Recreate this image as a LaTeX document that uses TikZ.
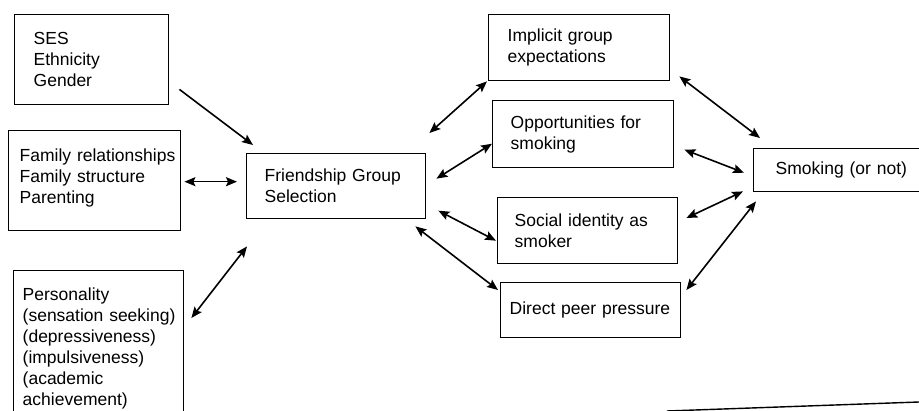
\documentclass[tikz,border=0pt]{standalone}
\usepackage{fontspec}
\setmainfont{Liberation Sans}
\usetikzlibrary{arrows.meta,calc}
\begin{document}
\begin{tikzpicture}[x=1pt,y=-1pt,
  box/.style={draw, line width=1.4pt, anchor=north west, align=left,
    font=\fontsize{17.5}{21}\selectfont, inner ysep=0pt},
  link/.style={line width=1.6pt, {Stealth[length=11pt,width=9pt,inset=2pt]}-{Stealth[length=11pt,width=9pt,inset=2pt]}},
  one/.style={line width=1.6pt, -{Stealth[length=11pt,width=9pt,inset=2pt]}},
  edge line/.style={line width=1.4pt}]
\useasboundingbox (0,0) rectangle (919,411);

% left column
\node[box, minimum width=154pt, minimum height=90pt, inner xsep=19pt, text width=116pt] (ses) at (14,14) {SES\\Ethnicity\\Gender};
\node[box, minimum width=172pt, minimum height=100pt, inner xsep=11pt, text width=150pt, text depth=52pt] (fam) at (8,130) {\mbox{Family relationships}\\Family structure\\Parenting};
\node[box, minimum width=170pt, minimum height=155pt, inner xsep=9pt, text width=152pt] (pers) at (13,270) {Personality\\\mbox{(sensation seeking)}\\(depressiveness)\\(impulsiveness)\\(academic\\achievement)};

% centre
\node[box, minimum width=179pt, minimum height=65pt, inner xsep=18pt, text width=143pt] (fr) at (246,153) {Friendship Group\\Selection};

% mediators
\node[box, minimum width=181pt, minimum height=66pt, inner xsep=19pt, text width=143pt] (imp) at (488,14) {Implicit group\\expectations};
\node[box, minimum width=181pt, minimum height=67pt, inner xsep=18pt, text width=145pt] (opp) at (492,100) {Opportunities for\\smoking};
\node[box, minimum width=180pt, minimum height=66pt, inner xsep=17pt, text width=146pt] (soc) at (497,197) {Social identity as\\smoker};
\node[box, minimum width=180pt, minimum height=55pt, inner xsep=9pt, text width=162pt] (dir) at (500,282) {\mbox{Direct peer pressure}};

% outcome
\node[box, minimum width=190pt, minimum height=43pt, inner xsep=22pt, text width=146pt] (smk) at (753,148) {Smoking (or not)};

% connectors
\draw[one]  ($(ses.south east)+(10,-16)$) -- ($(fr.north west)+(7,-8)$);
\draw[link] ($(fam.east)+(3,1)$) -- ($(fr.west)+(-9,-4.5)$);
\draw[link] ($(pers.north east)+(7,48)$) -- ($(fr.south west)+(1,27)$);

\draw[link] ($(fr.north east)+(3,-20)$) -- ($(imp.south west)+(-1,0)$);
\draw[link] ($(fr.east)+(10,-7.5)$) -- ($(opp.west)+(0,9.5)$);
\draw[link] ($(fr.east)+(12,24.5)$) -- ($(soc.west)+(-1,10)$);
\draw[link] ($(fr.south east)+(-11,7)$) -- ($(dir.north west)+(-2,8)$);

\draw[link] ($(imp.south east)+(9,-5)$) -- ($(smk.north west)+(7,-10)$);
\draw[link] ($(opp.east)+(10,15.5)$) -- ($(smk.west)+(-9,2.5)$);
\draw[link] ($(soc.north east)+(8,21)$) -- ($(smk.south west)+(-10,-1)$);
\draw[link] ($(dir.north east)+(5,8)$) -- ($(smk.south west)+(3,9)$);

% page edge line at bottom right
\coordinate (e1) at (667,411);
\coordinate (e2) at (919,402);
\draw[edge line] (e1) -- (e2);
\end{tikzpicture}
\end{document}
